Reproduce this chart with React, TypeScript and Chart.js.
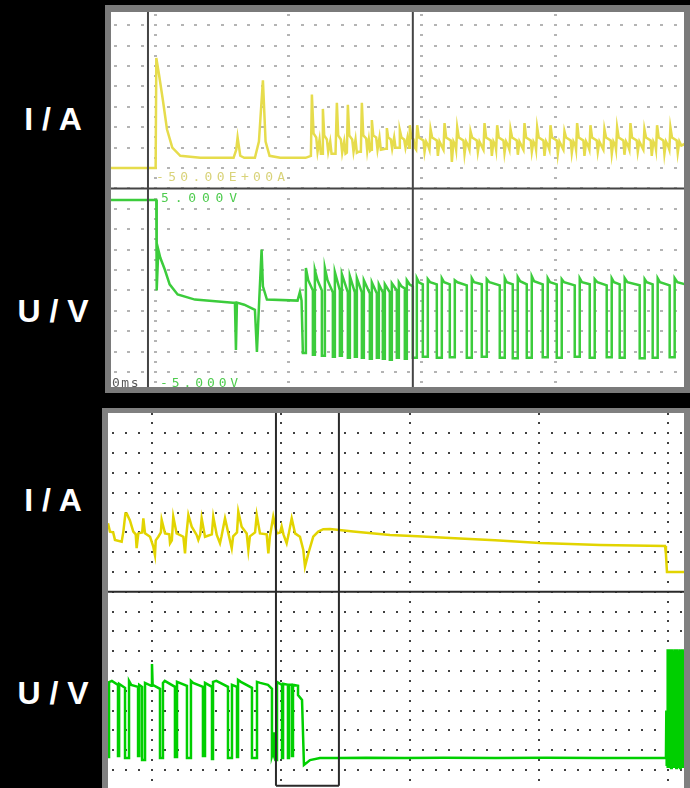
import React, { useEffect, useRef } from "react";
import { Chart, registerables } from "chart.js";

Chart.register(...registerables);

type Pt = [number, number];

// ---------- DATA (time in 1/10 grid division, amplitude in grid rows) ----------
const channelLabels = ["I / A", "U / V"];
const topScaleTexts = ["-50.00E+00A", "5.000V", "-5.000V", "0ms"];

const topCurrent: Pt[] = [
  [0, 10.0], [33.5, 10.0], [34, 15.4], [36, 14.6], [39, 13.3], [42, 11.9], [46, 11.0], [52, 10.6], [67, 10.5],
  [92, 10.5], [94, 10.9], [95, 11.5], [97, 10.6], [100, 10.5], [108, 10.5], [111, 11.3], [114, 14.3], [116, 11.3],
  [119, 10.6], [127, 10.5], [146, 10.5],
  [150, 10.6], [150.75, 13.6], [152, 11.7], [154, 11.5], [155, 10.8], [156.5, 11.4], [157.5, 10.7],
  [158.5, 10.7], [159, 12.9], [160, 11.6], [162, 11.4], [163, 10.8], [164.5, 11.3], [165.5, 10.7],
  [168.5, 10.7], [169.5, 13.2], [170.5, 11.6], [172.5, 11.4], [173.5, 10.75], [175, 11.3], [176, 10.7],
  [177, 10.75], [177.75, 13.1], [178.8, 11.6], [181, 11.4], [182, 10.8], [183.5, 11.4], [184.5, 10.75], [186, 10.8],
  [187.5, 10.8], [188.25, 13.2], [189.3, 11.6], [191.5, 11.45], [192.3, 10.85], [193.5, 11.4], [194.5, 10.85],
  [195.2, 10.9], [195.75, 12.35], [196.8, 11.6], [199, 11.5], [200, 10.9], [201.5, 11.5], [202.5, 10.9], [206, 10.95],
  [206.5, 10.95], [207, 11.96], [208, 11.5], [210, 11.4], [211, 10.95], [212.5, 11.5], [213.5, 11.0], [216, 11.0],
  [216.3, 11.0], [216.75, 11.86], [218, 11.5], [220, 11.4], [221, 11.0], [222.5, 11.5],
  [223.7, 11.0], [224.25, 12.1], [225.3, 11.5], [227, 11.4], [228, 11.0],
  [229, 10.9], [229.8, 12.1], [231, 11.5], [234.5, 11.35], [235.3, 10.8], [236.5, 11.3], [238, 11.1],
  [239, 10.9], [239.8, 11.9], [241, 11.5], [244.5, 11.35], [245.3, 10.6], [246.5, 11.3], [248, 11.1],
  [249.5, 10.9], [250.3, 12.2], [251.5, 11.5], [255, 11.35], [255.8, 10.3], [257, 11.3], [258.5, 11.1],
  [259, 10.9], [259.8, 12.0], [261, 11.5], [264.5, 11.35], [265.3, 10.7], [266.5, 11.3], [268, 11.1],
  [269, 10.9], [269.8, 11.8], [271, 11.5], [274.5, 11.35], [275.3, 10.8], [276.5, 11.3], [278, 11.1],
  [279.5, 10.9], [280.3, 12.2], [281.5, 11.5], [285, 11.35], [285.8, 10.6], [287, 11.3], [288.5, 11.1],
  [289, 10.9], [289.8, 12.1], [291, 11.5], [294.5, 11.35], [295.3, 10.75], [296.5, 11.3], [298, 11.1],
  [299, 10.9], [299.8, 11.9], [301, 11.5], [304.5, 11.35], [305.3, 10.65], [306.5, 11.3], [308, 11.1],
  [309.5, 10.9], [310.3, 12.2], [311.5, 11.5], [315, 11.35], [315.8, 10.8], [317, 11.3], [318.5, 11.1],
  [319, 10.9], [319.8, 12.0], [321, 11.5], [324.5, 11.35], [325.3, 10.6], [326.5, 11.3], [328, 11.1],
  [329, 10.9], [329.8, 12.1], [331, 11.5], [334.5, 11.35], [335.3, 10.7], [336.5, 11.3], [338, 11.1],
  [339.5, 10.9], [340.3, 11.8], [341.5, 11.5], [345, 11.35], [345.8, 10.75], [347, 11.3], [348.5, 11.1],
  [349, 10.9], [349.8, 12.2], [351, 11.5], [354.5, 11.35], [355.3, 10.6], [356.5, 11.3], [358, 11.1],
  [359, 10.9], [359.8, 12.1], [361, 11.5], [364.5, 11.35], [365.3, 10.8], [366.5, 11.3], [368, 11.1],
  [369.5, 10.9], [370.3, 11.9], [371.5, 11.5], [375, 11.35], [375.8, 10.7], [377, 11.3], [378.5, 11.1],
  [379, 10.9], [379.8, 12.0], [381, 11.5], [384.5, 11.35], [385.3, 10.65], [386.5, 11.3], [388, 11.1],
  [389, 10.9], [389.8, 12.2], [391, 11.5], [394.5, 11.35], [395.3, 10.8], [396.5, 11.3], [398, 11.1],
  [399.5, 10.9], [400.3, 11.9], [401.5, 11.5], [405, 11.35], [405.8, 10.6], [407, 11.3], [408.5, 11.1],
  [409, 10.9], [409.8, 12.1], [411, 11.5], [414.5, 11.35], [415.3, 10.7], [416.5, 11.3], [418, 11.1],
  [419, 10.9], [419.8, 12.0], [421, 11.5], [424.5, 11.35], [425.3, 10.75], [426.5, 11.3], [428, 11.1], [431, 11.2],
];

const topVoltage: Pt[] = [
  [0, 8.43], [34, 8.43], [34.3, 4.0], [35.5, 6.0], [37, 5.6], [40.5, 5.0], [44, 4.3], [50, 3.8], [63, 3.55],
  [91.5, 3.4], [93, 3.4], [93.75, 1.08], [94.5, 3.4], [100, 3.3], [108, 3.05], [109.5, 0.98], [111, 3.2],
  [113, 6.0], [114, 4.2], [117, 3.55], [140, 3.5], [141.75, 3.92], [143, 3.5], [144, 0.93],
  [146.25, 0.93], [146.25, 5.1], [148, 4.5], [151.5, 4.0], [151.5, 0.85],
  [153, 0.85], [153, 5.0], [155, 4.5], [158.25, 4.0], [158.25, 0.8],
  [160.5, 0.8], [160.5, 5.1], [162.5, 4.5], [166.5, 3.9], [166.5, 0.75],
  [168, 0.75], [168, 4.9], [171.75, 4.0], [171.75, 0.8],
  [173.25, 0.8], [173.25, 4.8], [177.75, 3.9], [177.75, 0.7],
  [179.25, 0.7], [179.25, 4.7], [183, 3.9], [183, 0.75],
  [184.5, 0.75], [184.5, 4.6], [188.25, 3.9], [188.25, 0.7],
  [189.75, 0.7], [189.75, 4.5], [194.25, 3.85], [194.25, 0.65],
  [195.75, 0.65], [195.75, 4.4], [199.5, 3.85], [199.5, 0.7],
  [201, 0.7], [201, 4.3], [204, 3.9], [204, 0.65],
  [205.5, 0.65], [205.5, 4.3], [209.25, 3.9], [209.25, 0.6],
  [210.75, 0.6], [210.75, 4.35], [214.5, 4.0], [214.5, 0.7],
  [216, 0.7], [216, 4.4], [218, 4.2], [220.5, 4.1], [220.5, 0.65],
  [222, 0.65], [222, 4.5], [224, 4.3], [226.5, 4.2], [226.5, 0.7],
  [229.5, 0.7], [229.5, 4.6], [231, 4.4], [234, 4.3], [234, 0.75],
  [237.75, 0.75], [237.75, 4.55], [239.5, 4.4], [244.5, 4.3], [244.5, 0.7],
  [248.25, 0.7], [248.25, 4.6], [250, 4.4], [254.25, 4.3], [254.25, 0.72],
  [258, 0.72], [258, 4.5], [260, 4.4], [267, 4.25], [267, 0.7],
  [270.75, 0.7], [270.75, 4.6], [272.5, 4.4], [278.25, 4.3], [278.25, 0.75],
  [282, 0.75], [282, 4.55], [284, 4.4], [291.75, 4.25], [291.75, 0.7],
  [295.5, 0.7], [295.5, 4.6], [297, 4.4], [301.5, 4.3], [301.5, 0.68],
  [305.25, 0.68], [305.25, 4.65], [307, 4.45], [312, 4.3], [312, 0.7],
  [315.75, 0.7], [315.75, 4.7], [317.5, 4.45], [324, 4.3], [324, 0.72],
  [327.75, 0.72], [327.75, 4.6], [329.5, 4.4], [334.5, 4.3], [334.5, 0.7],
  [338.25, 0.7], [338.25, 4.55], [340, 4.4], [348, 4.25], [348, 0.75],
  [351.75, 0.75], [351.75, 4.6], [353.5, 4.4], [359.25, 4.3], [359.25, 0.7],
  [363, 0.7], [363, 4.55], [365, 4.4], [372, 4.25], [372, 0.72],
  [375.75, 0.72], [375.75, 4.6], [377.5, 4.4], [381.75, 4.3], [381.75, 0.7],
  [385.5, 0.7], [385.5, 4.6], [387.5, 4.4], [396.75, 4.25], [396.75, 0.68],
  [400.5, 0.68], [400.5, 4.55], [402, 4.4], [406.5, 4.3], [406.5, 0.7],
  [410.25, 0.7], [410.25, 4.6], [412, 4.4], [419.25, 4.25], [419.25, 0.72],
  [423, 0.72], [423, 4.6], [425, 4.4], [431, 4.3],
];

const bottomCurrent: Pt[] = [
  [0, 12.46], [1.5, 12.04], [4, 12.0], [5.4, 11.62], [10.6, 11.53], [11.9, 12.04], [13.5, 12.96], [14.5, 12.96],
  [17, 12.6], [19.6, 12.04], [21.5, 11.9], [22.2, 11.2], [23.5, 11.95], [26.5, 12.0], [27.4, 12.71], [28.7, 11.95],
  [32.6, 11.78], [35.1, 11.28], [36.4, 10.86], [37, 11.6], [39, 11.78], [41, 12.0], [41.6, 12.63], [44.2, 11.95],
  [47.5, 11.9], [48.1, 11.45], [49.5, 11.6], [50.6, 12.79], [53.2, 11.95], [58.4, 11.78], [59.7, 10.94], [60.5, 11.7],
  [62.3, 12.88], [64.9, 12.29], [68.7, 11.87], [70, 11.62], [71.5, 11.9], [72.6, 12.71], [75.2, 11.78], [80.5, 11.9],
  [81.6, 12.79], [84.3, 11.87], [86.8, 11.45], [88, 11.8], [90.7, 12.71], [93.3, 11.95], [95.9, 11.2], [97, 11.8],
  [100, 12.0], [101, 13.05], [103.6, 12.29], [107.5, 11.95], [108.8, 11.11], [110, 11.8], [114, 12.0], [115.3, 12.88],
  [117.8, 11.95], [123, 11.9], [124.3, 10.94], [125.5, 11.8], [128.1, 12.79], [130.8, 11.95], [133.5, 12.0],
  [134.6, 12.3], [136, 11.9], [138.5, 11.45], [140, 11.9], [142.4, 12.71], [145, 11.95], [148.8, 11.78],
  [151.4, 11.11], [152.7, 10.27], [155.3, 10.94], [159.1, 11.78], [163, 12.04], [166.9, 12.16], [172.1, 12.17],
  [190, 12.05], [218.6, 11.87], [240, 11.8], [265.1, 11.72], [300, 11.6], [334.9, 11.46], [381.4, 11.36],
  [431.8, 11.31], [432.5, 10.9], [433.3, 10.0], [446.5, 10.0],
];

const bottomVoltage: Pt[] = [
  [0, 0.66], [0.8, 0.66], [0.8, 4.44], [3, 4.5], [7.75, 4.3], [7.75, 0.7], [8.6, 0.7], [8.6, 4.35], [13.2, 4.15], [13.2, 0.6],
  [16.3, 0.6], [16.3, 4.5], [18, 4.3], [23.3, 4.2], [23.3, 0.7], [24.2, 0.7], [24.2, 4.3], [26.4, 4.2], [26.4, 0.5],
  [28.7, 0.5], [28.7, 4.4], [33.5, 4.25], [34.1, 5.35], [34.6, 4.3], [40.3, 4.1], [40.3, 0.6],
  [42.6, 0.6], [42.6, 4.4], [44, 4.5], [51.9, 4.2], [51.9, 0.65],
  [53.5, 0.65], [53.5, 4.45], [61.2, 4.25], [61.2, 0.6],
  [64.3, 0.6], [64.3, 4.5], [66, 4.4], [73.6, 4.2], [73.6, 0.7],
  [75.2, 0.7], [75.2, 4.4], [80.6, 4.2], [80.6, 0.55], [81.4, 0.55], [81.4, 4.45], [84, 4.5], [93, 4.2], [93, 0.6],
  [96.1, 0.6], [96.1, 4.3], [100, 4.2], [100, 0.65], [100.8, 0.65], [100.8, 4.55], [103, 4.45], [111.6, 4.15], [111.6, 0.6],
  [115.5, 0.6], [115.5, 4.45], [118, 4.4], [124, 4.3], [127.1, 4.1], [127.1, 0.7], [128, 0.9], [128.7, 1.9], [128.7, 0.7], [129.7, 0.5],
  [131, 0.5], [131, 4.45], [134.9, 4.3], [134.9, 0.6], [135.7, 0.6], [135.7, 4.35], [139.5, 4.3], [139.5, 0.6],
  [140.3, 0.6], [140.3, 4.3], [142.6, 4.3], [142.6, 0.7], [143.4, 0.7], [143.4, 4.3], [147.3, 4.25], [147.3, 3.79],
  [150.4, 3.54], [151.9, 0.25], [156.6, 0.5], [164.3, 0.6],
  [180, 0.6], [200, 0.62], [230, 0.6], [260, 0.62], [300, 0.6], [340, 0.62], [380, 0.6], [431.5, 0.6],
  [432.5, 0.6], [432.8, 3.0], [433.1, 0.2], [433.4, 3.0], [433.7, 0.1], [434, 6.1], [434.5, 0.1], [435, 6.1],
  [435.5, 0.1], [436, 6.1], [436.5, 0.1], [437, 6.1], [437.5, 0.1], [438, 6.0], [438.5, 0.1], [439, 6.1],
  [439.5, 0.1], [440, 6.0], [440.5, 0.1], [441, 6.1], [441.5, 0.1], [442, 6.0], [442.5, 0.1], [443, 6.1],
  [443.5, 0.1], [444, 6.0], [444.5, 0.1], [445, 6.1], [445.5, 0.1], [446, 6.0], [446.5, 0.1],
];

// axis extents & grid ticks
const topXRange = [0, 430];
const topYRange = [-0.735, 17.65];
const bottomXRange = [0, 446.5];
const bottomYRange = [-0.91, 18.03];
const gridRows = [0, 1, 2, 3, 4, 5, 6, 7, 8, 9, 10, 11, 12, 13, 14, 15, 16, 17];
const topMajorTicks = [33, 133, 233, 333];
const bottomMajorTicks = [34, 134, 234, 334, 434];
const topCursors = [27.75, 226.5];
const bottomCursors = [130.2, 179];
const channelDivider = 9;

function minorTicks(start: number, end: number): number[] {
  const t: number[] = [];
  for (let v = start; v <= end; v += 10) t.push(v);
  return t;
}

const scopePlugin = {
  id: "scope",
  beforeDatasetsDraw(chart: any, _a: any, o: any) {
    const { ctx } = chart;
    const x = chart.scales.x;
    const y = chart.scales.y;
    const [w, h] = o.dotSize;
    ctx.save();
    ctx.fillStyle = o.dotColor;
    for (const r of o.rows) {
      const py = Math.round(y.getPixelForValue(r));
      for (const c of o.minor) {
        const px = Math.round(x.getPixelForValue(c));
        ctx.fillRect(px - Math.floor(w / 2), py - Math.floor(h / 2), w, h);
      }
    }
    const first = o.rows[0] - 1;
    const last = o.rows[o.rows.length - 1] + 1;
    for (const c of o.major) {
      const px = Math.round(x.getPixelForValue(c));
      for (let r = first; r <= last; r += 0.5) {
        const py = Math.round(y.getPixelForValue(r));
        ctx.fillRect(px - Math.floor(w / 2), py - Math.floor(h / 2), w, h);
      }
    }
    ctx.restore();
  },
  afterDatasetsDraw(chart: any, _a: any, o: any) {
    const { ctx, chartArea } = chart;
    const x = chart.scales.x;
    const y = chart.scales.y;
    ctx.save();
    ctx.strokeStyle = o.lineColor;
    ctx.lineWidth = o.lineWidth;
    const dy = y.getPixelForValue(o.divider);
    ctx.beginPath();
    ctx.moveTo(chartArea.left, dy);
    ctx.lineTo(chartArea.right, dy);
    ctx.stroke();
    const bottom = o.cursorBottom != null ? y.getPixelForValue(o.cursorBottom) : chartArea.bottom + 2;
    for (const c of o.cursors) {
      const px = x.getPixelForValue(c);
      ctx.beginPath();
      ctx.moveTo(px, chartArea.top - 2);
      ctx.lineTo(px, bottom);
      ctx.stroke();
    }
    if (o.cursorBottom != null) {
      ctx.beginPath();
      ctx.moveTo(x.getPixelForValue(o.cursors[0]), bottom);
      ctx.lineTo(x.getPixelForValue(o.cursors[1]), bottom);
      ctx.stroke();
    }
    ctx.restore();
  },
};

type PanelProps = {
  width: number;
  height: number;
  xRange: number[];
  yRange: number[];
  current: Pt[];
  voltage: Pt[];
  currentColor: string;
  voltageColor: string;
  traceWidth: number;
  scope: any;
};

function ScopePanel(p: PanelProps) {
  const ref = useRef<HTMLCanvasElement>(null);
  useEffect(() => {
    const chart = new Chart(ref.current as HTMLCanvasElement, {
      type: "line",
      data: {
        datasets: [
          {
            data: p.current.map(([x, y]) => ({ x, y })),
            borderColor: p.currentColor,
            borderWidth: p.traceWidth,
            pointRadius: 0,
            tension: 0,
            fill: false,
            borderJoinStyle: "miter",
          },
          {
            data: p.voltage.map(([x, y]) => ({ x, y })),
            borderColor: p.voltageColor,
            borderWidth: p.traceWidth,
            pointRadius: 0,
            tension: 0,
            fill: false,
            borderJoinStyle: "miter",
          },
        ],
      } as any,
      options: {
        animation: false,
        responsive: false,
        maintainAspectRatio: false,
        events: [],
        layout: { padding: 0 },
        plugins: {
          legend: { display: false },
          tooltip: { enabled: false },
          scope: p.scope,
        } as any,
        scales: {
          x: { type: "linear", min: p.xRange[0], max: p.xRange[1], display: false },
          y: { type: "linear", min: p.yRange[0], max: p.yRange[1], display: false },
        },
      },
      plugins: [scopePlugin as any],
    });
    return () => chart.destroy();
  }, []);
  return (
    <canvas
      ref={ref}
      width={p.width}
      height={p.height}
      style={{ position: "absolute", left: 0, top: 0, width: p.width, height: p.height }}
    />
  );
}

const monoText = (color: string, spacing: number): React.CSSProperties => ({
  position: "absolute",
  fontFamily: "'DejaVu Sans Mono', monospace",
  fontSize: 13,
  lineHeight: "14px",
  letterSpacing: spacing,
  color,
  whiteSpace: "nowrap",
});

const labelStyle = (top: number): React.CSSProperties => ({
  position: "absolute",
  left: 0,
  top,
  width: 106,
  textAlign: "center",
  fontFamily: "'Liberation Sans', Arial, sans-serif",
  fontWeight: "bold",
  fontSize: 32,
  lineHeight: "32px",
  color: "#ffffff",
  whiteSpace: "pre",
});

export default function App() {
  return (
    <div style={{ position: "fixed", left: 0, top: 0, width: 690, height: 788, background: "#000", overflow: "hidden" }}>
      <div style={labelStyle(103)}>{channelLabels[0]}</div>
      <div style={labelStyle(295)}>{channelLabels[1]}</div>
      <div style={labelStyle(484)}>{channelLabels[0]}</div>
      <div style={labelStyle(677)}>{channelLabels[1]}</div>

      <div style={{ position: "absolute", left: 105, top: 5, width: 585, height: 388, background: "#7a7a7a" }} />
      <div style={{ position: "absolute", left: 111, top: 12, width: 573, height: 375, background: "#fff", overflow: "hidden" }}>
        <ScopePanel
          width={573}
          height={375}
          xRange={topXRange}
          yRange={topYRange}
          current={topCurrent}
          voltage={topVoltage}
          currentColor="#e6dc4c"
          voltageColor="#3ccc3c"
          traceWidth={2.5}
          scope={{
            rows: gridRows,
            minor: minorTicks(3, 425),
            major: topMajorTicks,
            dotColor: "#b4b4b4",
            dotSize: [3, 2],
            divider: channelDivider,
            cursors: topCursors,
            cursorBottom: null,
            lineColor: "#454545",
            lineWidth: 2,
          }}
        />
        <div style={{ ...monoText("#d9d37a", 4.3), left: 45, top: 158 }}>{topScaleTexts[0]}</div>
        <div style={{ ...monoText("#4fcc4f", 5.8), left: 50, top: 179 }}>{topScaleTexts[1]}</div>
        <div style={{ ...monoText("#4fcc4f", 3.9), left: 49, top: 364 }}>{topScaleTexts[2]}</div>
        <div style={{ ...monoText("#5a5a5a", 1.5), left: 1, top: 364 }}>{topScaleTexts[3]}</div>
      </div>

      <div style={{ position: "absolute", left: 102, top: 408, width: 588, height: 380, background: "#808080" }} />
      <div style={{ position: "absolute", left: 108, top: 413, width: 576, height: 375, background: "#fff", overflow: "hidden" }}>
        <ScopePanel
          width={576}
          height={375}
          xRange={bottomXRange}
          yRange={bottomYRange}
          current={bottomCurrent}
          voltage={bottomVoltage}
          currentColor="#e2d400"
          voltageColor="#00cf00"
          traceWidth={2.5}
          scope={{
            rows: gridRows,
            minor: minorTicks(4, 444),
            major: bottomMajorTicks,
            dotColor: "#404040",
            dotSize: [2, 2],
            divider: channelDivider,
            cursors: bottomCursors,
            cursorBottom: -0.8,
            lineColor: "#2a2a2a",
            lineWidth: 2,
          }}
        />
      </div>
    </div>
  );
}
